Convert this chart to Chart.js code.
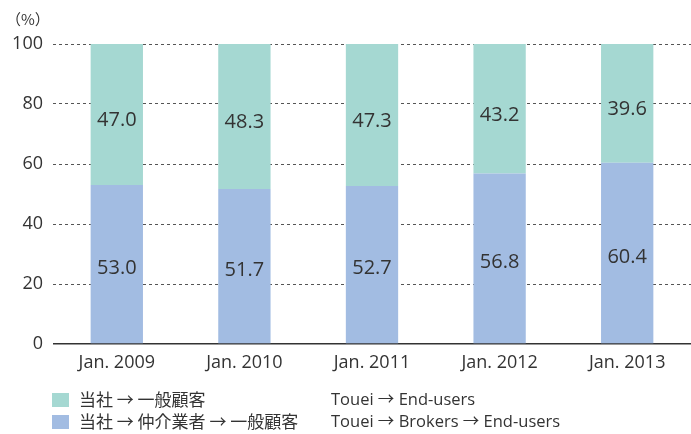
<!DOCTYPE html>
<html>
<head>
<meta charset="utf-8">
<script src="https://cdn.jsdelivr.net/npm/chart.js@4"></script>
<style>
  html, body { margin: 0; padding: 0; background: #fff; }
  #wrap { width: 691px; height: 434px; position: relative; }
</style>
</head>
<body>
<div id="wrap"><canvas id="myChart" width="691" height="434"></canvas></div>
<script>
const categories = ["Jan. 2009", "Jan. 2010", "Jan. 2011", "Jan. 2012", "Jan. 2013"];
const viaBrokers = [53.0, 51.7, 52.7, 56.8, 60.4];
const toEndUsers = [47.0, 48.3, 47.3, 43.2, 39.6];
const legendJa = ["当社 → 一般顧客", "当社 → 仲介業者 → 一般顧客"];
const legendEn = ["Touei → End-users", "Touei → Brokers → End-users"];

const TEAL = "#a5d8d2";
const BLUE = "#a2bce2";
const INK = "#333333";
const LATIN = "'Open Sans', 'Noto Sans CJK JP', sans-serif";
const CJK = "'Noto Sans CJK JP', sans-serif";

// value labels inside each segment, plus unit text and the legend below
const extras = {
  id: "extras",
  afterDatasetsDraw(chart) {
    const c = chart.ctx;
    c.save();
    c.fillStyle = INK;
    c.font = "20px " + LATIN;
    c.textAlign = "center";
    c.textBaseline = "middle";
    chart.data.datasets.forEach((ds, di) => {
      const meta = chart.getDatasetMeta(di);
      meta.data.forEach((bar, i) => {
        const mid = (bar.y + bar.base) / 2 + ds.labelShift;
        c.fillText(ds.data[i].toFixed(1), bar.x, mid);
      });
    });

    c.font = "15px " + CJK;
    c.textAlign = "left";
    c.fillText("（%）", 6, 19);

    const rows = [chart.data.datasets[1], chart.data.datasets[0]];
    rows.forEach((ds, r) => {
      const y = 400 + r * 22;
      c.fillStyle = ds.backgroundColor;
      c.fillRect(52, y - 7, 17, 14);
      c.fillStyle = INK;
      c.font = "17px " + CJK;
      c.fillText(legendJa[r], 79, y);
      c.font = "16.5px " + LATIN;
      c.fillText(legendEn[r], 331, y);
    });
    c.restore();
  }
};

new Chart(document.getElementById("myChart"), {
  type: "bar",
  data: {
    labels: categories,
    datasets: [
      {
        label: "Touei → Brokers → End-users",
        data: viaBrokers,
        backgroundColor: BLUE,
        labelShift: 4,
      },
      {
        label: "Touei → End-users",
        data: toEndUsers,
        backgroundColor: TEAL,
        labelShift: 6,
      },
    ],
  },
  options: {
    responsive: false,
    animation: false,
    events: [],
    layout: { padding: { top: 44, right: -2, left: 0, bottom: 0 } },
    datasets: { bar: { barPercentage: 1, categoryPercentage: 0.41 } },
    plugins: { legend: { display: false }, tooltip: { enabled: false } },
    scales: {
      x: {
        stacked: true,
        grid: { display: false },
        border: { display: false },
        ticks: { color: INK, font: { family: LATIN, size: 18 }, padding: 0 },
        afterFit(s) { s.height = 90; },
      },
      y: {
        stacked: true,
        min: 0,
        max: 100,
        ticks: { stepSize: 20, color: INK, font: { family: LATIN, size: 18 }, padding: 10 },
        grid: {
          drawTicks: false,
          color: (ctx) => (ctx.tick && ctx.tick.value === 0 ? "#333" : "#555"),
          lineWidth: (ctx) => (ctx.tick && ctx.tick.value === 0 ? 1.5 : 1),
        },
        border: {
          display: false,
          dash: (ctx) => (ctx.tick && ctx.tick.value === 0 ? [] : [3, 3]),
        },
        afterFit(s) { s.width = 53; },
      },
    },
  },
  plugins: [extras],
});
</script>
</body>
</html>
